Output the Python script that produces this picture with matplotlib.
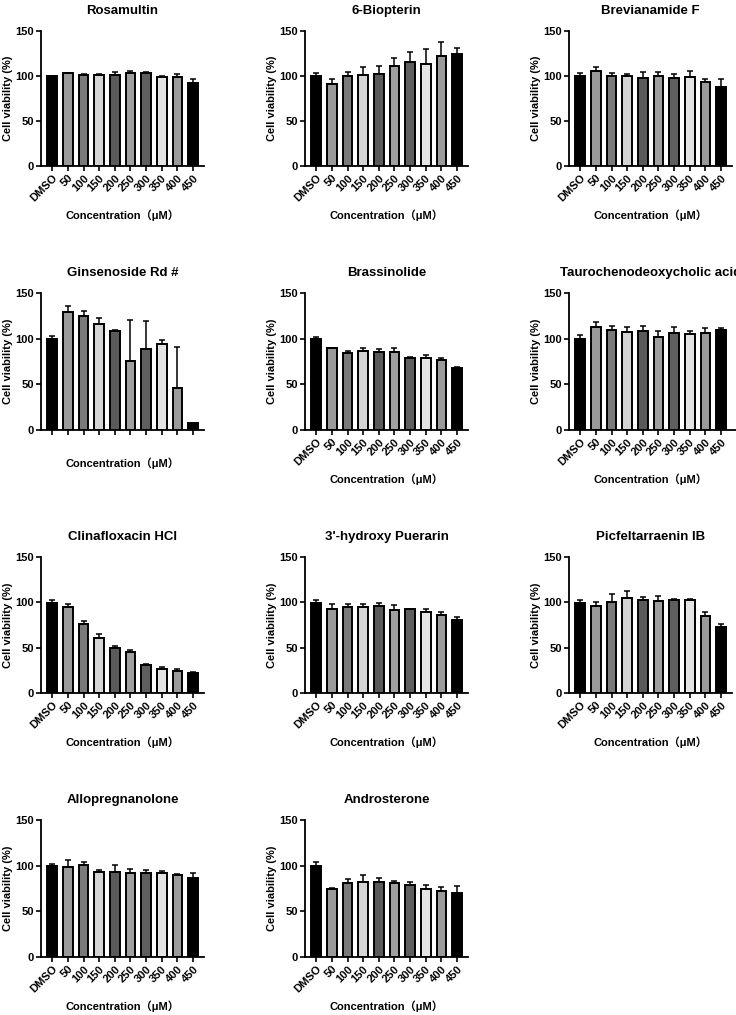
import matplotlib
matplotlib.use("Agg")
import matplotlib.pyplot as plt
import numpy as np

plt.rcParams['font.family'] = ['Liberation Sans', 'Noto Sans CJK SC', 'DejaVu Sans']
plt.rcParams['font.weight'] = 'bold'

concs = ["DMSO", "50", "100", "150", "200", "250", "300", "350", "400", "450"]
bar_colors = ["#000000", "#9a9a9a", "#7a7a7a", "#d4d4d4", "#5a5a5a",
              "#a0a0a0", "#5e5e5e", "#e4e4e4", "#9a9a9a", "#000000"]

titles = ["Rosamultin", "6-Biopterin", "Brevianamide F",
          "Ginsenoside Rd #", "Brassinolide", "Taurochenodeoxycholic acid",
          "Clinafloxacin HCl", "3'-hydroxy Puerarin", "Picfeltarraenin IB",
          "Allopregnanolone", "Androsterone"]

rosamultin = [100, 103, 101.5, 101.5, 101.5, 103.8, 103, 99, 99, 92.7]
rosamultin_err = [0.5, 0.5, 1, 1, 2.5, 2, 2, 1, 3, 4]
biopterin = [99.6, 91.2, 99.6, 100.7, 102, 111, 115.4, 113.2, 122.4, 125]
biopterin_err = [3.7, 5, 5, 9, 9.5, 8.5, 11.8, 17, 15.8, 6.6]
brevianamide = [99.6, 105.9, 100.4, 99.6, 98.2, 99.6, 98.2, 98.5, 93, 88.2]
brevianamide_err = [3.7, 3.7, 3, 2.6, 6.3, 4.8, 4.4, 6.6, 3.3, 8]
ginsenoside = [99.5, 129.5, 124.4, 116.4, 108.3, 75, 88.9, 94, 46.5, 7.7]
ginsenoside_err = [3, 6.6, 5.9, 6.6, 1.5, 45.7, 30.7, 4, 44.6, 0.5]
brassinolide = [99.5, 89.3, 83.8, 86, 84.9, 85.3, 78.3, 78.3, 76.1, 67.7]
brassinolide_err = [2.2, 0.7, 2.6, 4, 3.3, 4.8, 1.8, 4, 2.6, 1.1]
taurocheno = [99.5, 112.7, 109.8, 107.6, 108.3, 101.3, 106.1, 105.4, 106.5, 109]
taurocheno_err = [4.4, 5.1, 3.7, 5.1, 5.5, 7, 6.6, 2.9, 4.8, 2.2]
clinafloxacin = [99.6, 94.9, 76.1, 60.7, 50, 45.6, 31.3, 26.5, 24.6, 22.1]
clinafloxacin_err = [3, 3, 3.3, 4.4, 1.8, 1.5, 1.1, 1.8, 1.5, 0.7]
puerarin = [99.6, 93, 94.9, 94.9, 95.6, 91.9, 92.3, 89, 86, 80.1]
puerarin_err = [3, 5.1, 3.7, 3.7, 3.3, 5.1, 0.7, 3.3, 3.7, 4]
picfeltarraenin = [99.6, 95.6, 100.7, 105.1, 102.9, 101.5, 102.2, 102.2, 85.3, 72.8]
picfeltarraenin_err = [3, 4.4, 8, 7.4, 2.6, 5.1, 1.8, 1.5, 4.4, 3]
allopregnanolone = [99.5, 98.4, 100.6, 92.6, 93.3, 92.2, 91.5, 92.2, 90, 86]
allopregnanolone_err = [2.2, 7.3, 3.7, 2.9, 7, 4.4, 3.3, 1.8, 1.1, 6.2]
androsterone = [99.9, 74.6, 80.9, 82.3, 81.6, 80.5, 79, 75, 72.8, 70.6]
androsterone_err = [3.7, 1.1, 4, 7, 4.4, 2.2, 3.3, 3.3, 3.3, 7.3]

means = [rosamultin, biopterin, brevianamide, ginsenoside, brassinolide, taurocheno,
         clinafloxacin, puerarin, picfeltarraenin, allopregnanolone, androsterone]
errs = [rosamultin_err, biopterin_err, brevianamide_err, ginsenoside_err, brassinolide_err,
        taurocheno_err, clinafloxacin_err, puerarin_err, picfeltarraenin_err,
        allopregnanolone_err, androsterone_err]

W, H = 736, 1015
fig = plt.figure(figsize=(W / 100, H / 100), dpi=100)

# pixel layout: axis top (150) / bottom (0) per row, y-axis x per column
rows = [(31, 166), (293, 430), (557, 693), (820, 957)]
cols = [41, 305, 569]
aw = 163
xl, xr = -0.72, 9.7

x = np.arange(len(concs))
for i, title in enumerate(titles):
    r, c = divmod(i, 3)
    top, bot = rows[r]
    left = cols[c]
    w = aw
    right_lim = xr
    if title.startswith("Tauro"):
        # this panel runs off the right edge in the original
        extra = 10
        w = aw + extra
        right_lim = xr + extra * (xr - xl) / aw
    ax = fig.add_axes([left / W, 1 - bot / H, w / W, (bot - top) / H])
    ax.bar(x, means[i], width=0.62, color=bar_colors, edgecolor="black", linewidth=1.4, zorder=2)
    ax.errorbar(x, means[i], yerr=[np.zeros(len(x)), errs[i]], fmt="none",
                ecolor="black", elinewidth=1.1, capsize=2.4, capthick=1.1, zorder=3)
    ax.set_xlim(xl, right_lim)
    ax.set_ylim(0, 150)
    ax.set_yticks([0, 50, 100, 150])
    ax.spines["top"].set_visible(False)
    ax.spines["right"].set_visible(False)
    for s in ["left", "bottom"]:
        ax.spines[s].set_linewidth(1.3)
    ax.tick_params(axis="both", direction="out", length=3.5, width=1.2, labelsize=8, pad=1.5)
    ax.set_xticks(x)
    if title.startswith("Ginsenoside"):
        ax.set_xticklabels([])
        ax.xaxis.set_label_coords(0.5, -0.2)
    else:
        ax.set_xticklabels(concs, rotation=45, ha="right", va="top", rotation_mode="anchor")
        ax.xaxis.set_label_coords(0.5, -0.32)
    ax.set_title(title, fontsize=9.5, fontweight="bold", pad=12.5)
    ax.set_ylabel("Cell viability (%)", fontsize=8, fontweight="bold")
    ax.yaxis.set_label_coords(-0.17 * aw / w, 0.5)
    ax.set_xlabel("Concentration（μM）", fontsize=8, fontweight="bold")
    if title.startswith("Tauro"):
        ax.title.set_x(0.5 * aw / w)
        ax.xaxis.set_label_coords(0.5 * aw / w, -0.32)

fig.savefig("out.png", dpi=100)
